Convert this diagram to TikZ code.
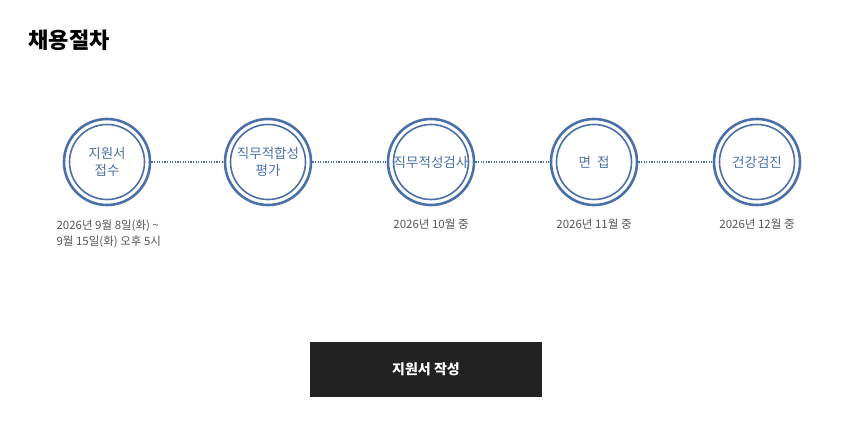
\documentclass[tikz,border=0pt]{standalone}
\usepackage{fontspec}
\newfontfamily\cjk{Noto Sans CJK KR}
\begin{document}
\begin{tikzpicture}[x=1pt,y=-1pt,
  ring/.style={circle,draw=ringc,line width=2.6pt,minimum size=86pt,inner sep=0pt,
     font=\cjk\fontsize{13.5}{17}\selectfont,text=ringc,align=center,
     append after command={\pgfextra{\draw[ringc,line width=1.6pt] (\tikzlastnode.center) circle (37.5pt);}}},
  link/.style={ringc,line width=1.3pt,dash pattern=on 1.3pt off 1.3pt},
  date/.style={font=\cjk\fontsize{11.5}{16}\selectfont,text=datec}]
\definecolor{ringc}{HTML}{4A70A8}
\definecolor{datec}{HTML}{555555}
\definecolor{btn}{HTML}{222222}
\useasboundingbox (0,0) rectangle (860,447);
\fill[white] (0,0) rectangle (860,447);
\node[anchor=west,font=\cjk\bfseries\fontsize{22}{24}\selectfont] (title) at (25,40) {채용절차};
\node[ring] (a) at (107,162) {지원서\\접수};
\node[ring] (b) at (268,162) {직무적합성\\평가};
\node[ring] (c) at (431,162) {직무적성검사};
\node[ring] (d) at (594,162) {면 \ 접};
\node[ring] (e) at (757,162) {건강검진};
\draw[link] (a) -- (b);
\draw[link] (b) -- (c);
\draw[link] (c) -- (d);
\draw[link] (d) -- (e);
\node[date,anchor=north west,align=left] (da) at (53,216) {2026년 9월 8일(화) \textasciitilde\\9월 15일(화) 오후 5시};
\node[date] (dc) at (431,224) {2026년 10월 중};
\node[date] (dd) at (594,224) {2026년 11월 중};
\node[date] (de) at (757,224) {2026년 12월 중};
\node[fill=btn,minimum width=232pt,minimum height=55pt,text=white,font=\cjk\bfseries\fontsize{14}{16}\selectfont] (btn) at (426,369.5) {지원서 작성};
\end{tikzpicture}
\end{document}
